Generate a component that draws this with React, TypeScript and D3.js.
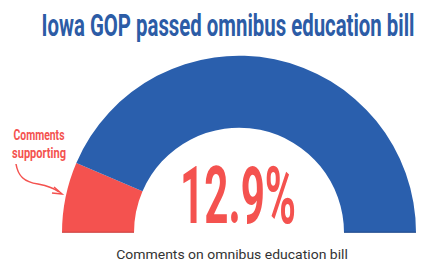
import React, { useEffect, useRef } from 'react';
import * as d3 from 'd3';

// gauge data
const categories = ['Comments supporting', 'Comments opposing'];
const shares = [12.9, 87.1];
const colors = ['#f4524f', '#2a5fad'];

const title = 'Iowa GOP passed omnibus education bill';
const caption = 'Comments on omnibus education bill';
const labelLines = ['Comments', 'supporting'];

const App = () => {
  const ref = useRef<SVGSVGElement>(null);

  useEffect(() => {
    const svg = d3.select(ref.current);
    svg.selectAll('*').remove();

    const cx = 239;
    const cy = 232.7;
    const outerR = 177;
    const innerR = 105;

    // squeezed text: centred at x, baseline y, stretched to width w
    const fitText = (t: string, x: number, y: number, w: number, size: number, weight: number, fill: string) => {
      const el = svg.append('text')
        .attr('text-anchor', 'middle')
        .attr('font-family', 'Roboto, sans-serif')
        .attr('font-weight', weight)
        .attr('font-size', size)
        .attr('fill', fill)
        .text(t);
      const len = (el.node() as SVGTextElement).getComputedTextLength() || w;
      el.attr('transform', `translate(${x},${y}) scale(${w / len},1)`);
      return el;
    };

    // title
    fitText(title, 228, 36, 373, 32, 700, '#2c5ca6');

    const pie = d3.pie<number>()
      .sort(null)
      .startAngle(-Math.PI / 2)
      .endAngle(Math.PI / 2);

    const arc = d3.arc<d3.PieArcDatum<number>>()
      .innerRadius(innerR)
      .outerRadius(outerR);

    const g = svg.append('g').attr('transform', `translate(${cx},${cy})`);

    g.selectAll('path')
      .data(pie(shares))
      .enter().append('path')
      .attr('class', (d, i) => categories[i])
      .attr('d', arc)
      .attr('fill', (d, i) => colors[i]);

    // darker base edge
    g.append('line')
      .attr('x1', -outerR).attr('x2', -innerR)
      .attr('y1', -0.5).attr('y2', -0.5)
      .attr('stroke', '#b03a3a').attr('stroke-width', 1).attr('opacity', 0.6);
    g.append('line')
      .attr('x1', innerR).attr('x2', outerR)
      .attr('y1', -0.5).attr('y2', -0.5)
      .attr('stroke', '#1d3f75').attr('stroke-width', 1).attr('opacity', 0.6);

    // big percentage
    fitText(`${shares[0]}%`, 238, 223, 116, 79, 700, colors[0]);

    // annotation label
    fitText(labelLines[0], 39, 139.5, 51, 15, 700, colors[0]);
    fitText(labelLines[1], 39, 157.5, 54, 15, 700, colors[0]);

    // curved arrow
    svg.append('path')
      .attr('d', 'M16,164 C18,176 24,182 38,184 C48,186 54,188 59,192')
      .attr('fill', 'none')
      .attr('stroke', colors[0])
      .attr('stroke-width', 1.5);
    svg.append('path')
      .attr('d', 'M54,187 L62,194 L52,193')
      .attr('fill', 'none')
      .attr('stroke', colors[0])
      .attr('stroke-width', 1.5);

    // caption
    fitText(caption, 232, 259, 232, 12, 400, '#333');
  }, []);

  return (
    <svg
      ref={ref}
      width={429}
      height={262}
      style={{ position: 'absolute', left: 0, top: 0, background: '#fff' }}
    />
  );
};

export default App;
